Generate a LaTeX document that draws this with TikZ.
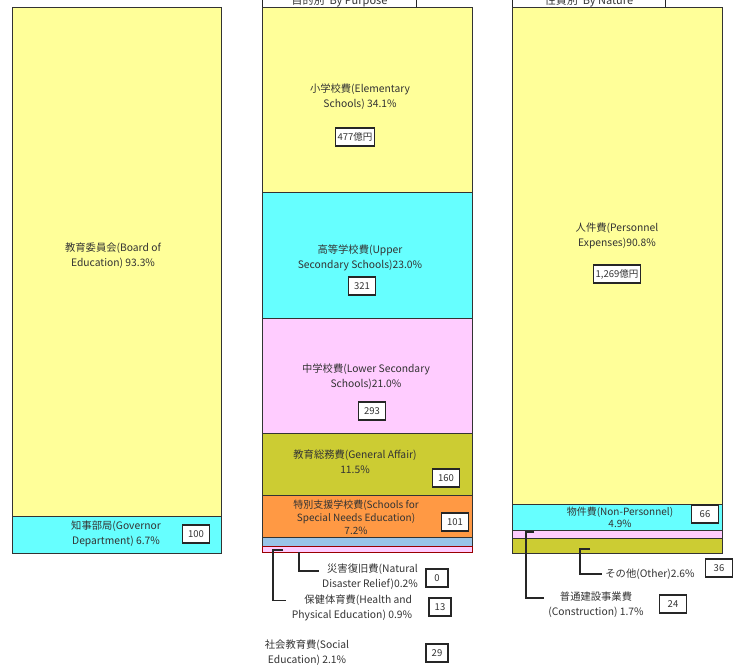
\documentclass[tikz,border=0pt]{standalone}
\usepackage{fontspec}
\newfontfamily\cjk{Noto Sans CJK JP}
\usetikzlibrary{calc,positioning}
\definecolor{segyellow}{HTML}{FFFF99}
\definecolor{segcyan}{HTML}{66FFFF}
\definecolor{segpink}{HTML}{FFCCFF}
\definecolor{segolive}{HTML}{CCCC33}
\definecolor{segorange}{HTML}{FF9944}
\definecolor{segblue}{HTML}{99C4E8}
\tikzset{
        bar/.style = {draw=black!80, line width=1pt},
        lbl/.style = {font=\cjk\fontsize{10.3}{15}\selectfont, text=black!80,
            align=center, inner sep=0pt},
        val/.style = {draw=black!85, line width=1.2pt, fill=white,
            font=\cjk\fontsize{9.5}{10}\selectfont, text=black!80,
            inner sep=2pt, minimum width=27pt, minimum height=18pt},
        head/.style = {draw=black!85, line width=1pt, fill=white,
            anchor=south west, font=\cjk\fontsize{11}{12}\selectfont,
            text=black!80, minimum height=13pt, inner xsep=4pt, inner ysep=0pt},
        lead/.style = {draw=black!85, line width=1.2pt},
    }

\begin{document}
\begin{tikzpicture}[x=1pt,y=-1pt]
\useasboundingbox (0,0) rectangle (738,668);

% by organisation
\draw[bar, fill=segyellow] (12,8) rectangle (221,516);
\draw[bar, fill=segcyan] (12,516) rectangle (221,553);
\node[lbl] (boe) at (113,256) {教育委員会(Board of\\Education) 93.3\%};
\node[lbl] (gov) at (116,534) {知事部局(Governor\\Department) 6.7\%};
\node[val] (govv) at (196,534) {100};

% by purpose
\node[head, minimum width=154pt] (purp) at (262,8) {目的別\ \ By Purpose};
\draw[bar, fill=segyellow] (262,8) rectangle (472,193);
\draw[bar, fill=segcyan] (262,193) rectangle (472,318);
\draw[bar, fill=segpink] (262,318) rectangle (472,433);
\draw[bar, fill=segolive] (262,433) rectangle (472,495);
\draw[bar, fill=segorange] (262,495) rectangle (472,537);
\draw[bar, fill=segblue] (262,537) rectangle (472,546);
\draw[bar, draw=red!60!black, fill=segpink] (262,546) rectangle (472,552);

\node[lbl] (elem) at (360,97) {小学校費(Elementary\\Schools) 34.1\%};
\node[val] (elemv) at (355,137) {477億円};
\node[lbl] (upper) at (360,258) {高等学校費(Upper\\Secondary Schools)23.0\%};
\node[val] (upperv) at (362,286) {321};
\node[lbl] (lower) at (366,377) {中学校費(Lower Secondary\\Schools)21.0\%};
\node[val] (lowerv) at (372,411) {293};
\node[lbl] (gen) at (355,462) {教育総務費(General Affair)\\11.5\%};
\node[val] (genv) at (446,478) {160};
\node[lbl, font=\cjk\fontsize{10}{13}\selectfont] (spec) at (356,517)
    {特別支援学校費(Schools for\\Special Needs Education)\\7.2\%};
\node[val] (specv) at (455,522) {101};

\node[lbl, align=right] (dis) at (370,577) {災害復旧費(Natural\\Disaster Relief)0.2\%};
\node[val, minimum width=22pt] (disv) at (437,578) {0};
\node[lbl, align=right] (hpe) at (352,608) {保健体育費(Health and\\Physical Education) 0.9\%};
\node[val, minimum width=22pt] (hpev) at (440,607) {13};
\node[lbl] (soc) at (307,653) {社会教育費(Social\\Education) 2.1\%};
\node[val, minimum width=22pt] (socv) at (437,653) {29};

\coordinate (disfrom) at (299,552);
\coordinate (hpefrom) at (273,550);
\draw[lead] (disfrom) |- ($(dis.north west)+(-3,7)$);
\draw[lead] ($(hpefrom)+(10,0)$) -- (hpefrom) |- ($(hpe.north west)+(-6,6)$);

% by nature
\node[head, minimum width=153pt] (natr) at (512,8) {性質別\ \ By Nature};
\draw[bar, fill=segyellow] (512,8) rectangle (722,504);
\draw[bar, fill=segcyan] (512,504) rectangle (722,530);
\draw[bar, fill=segpink] (512,530) rectangle (722,538);
\draw[bar, fill=segolive] (512,538) rectangle (722,553);

\node[lbl] (pers) at (617,236) {人件費(Personnel\\Expenses)90.8\%};
\node[val] (persv) at (617,274) {1,269億円};
\node[lbl, font=\cjk\fontsize{10}{12}\selectfont] (nonp) at (620,517) {物件費(Non-Personnel)\\4.9\%};
\node[val] (nonpv) at (705,514) {66};

\node[lbl] (oth) at (650,574) {その他(Other)2.6\%};
\node[val] (othv) at (719,568) {36};
\node[lbl] (cons) at (596,605) {普通建設事業費\\(Construction) 1.7\%};
\node[val] (consv) at (673,604) {24};

\coordinate (othfrom) at (580,549);
\coordinate (consfrom) at (526,532);
\draw[lead] ($(othfrom)+(10,0)$) -- (othfrom) |- ($(oth.west)+(-3,0)$);
\draw[lead] ($(consfrom)+(8,0)$) -- (consfrom) |- ($(cons.north west)+(-4,6)$);
\end{tikzpicture}
\end{document}
